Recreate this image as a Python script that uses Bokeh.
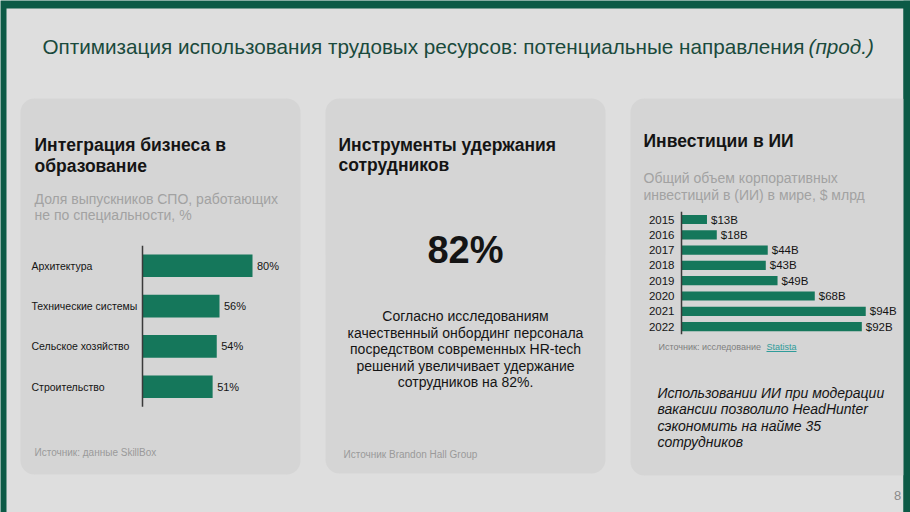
from bokeh.plotting import figure
from bokeh.models import Range1d
from bokeh.core.properties import value
from bokeh.embed import file_html
from bokeh.resources import INLINE

# Share of vocational-college graduates working outside their specialty, %
ed_fields = ["Архитектура", "Технические системы", "Сельское хозяйство", "Строительство"]
ed_share = [80, 56, 54, 51]

# Global corporate investment in AI, $ bn
ai_years = ["2015", "2016", "2017", "2018", "2019", "2020", "2021", "2022"]
ai_invest = [13, 18, 44, 43, 49, 68, 94, 92]

# Retention increase from HR-tech onboarding, %
retention_gain = 82

W, H = 910, 512
FONT = "Liberation Sans"
FRAME = "#0c5a46"
SLIDE_BG = "#dedede"
PANEL_BG = "#d5d5d5"
BAR = "#15775b"
TITLE_C = "#1a4a3c"
DARK = "#141414"
GREY = "#a2a2a2"
SRC = "#9a9a9a"

p = figure(width=W, height=H, x_range=Range1d(0, W), y_range=Range1d(H, 0),
           output_backend="svg", toolbar_location=None, min_border=0,
           x_axis_location=None, y_axis_location=None, outline_line_color=None,
           background_fill_color=FRAME, border_fill_color=FRAME)
p.xgrid.grid_line_color = None
p.ygrid.grid_line_color = None


def chart_ranges(axis_px, px_per_unit, first_row_px, row_px):
    """Ranges that put value 0 on the axis line and row i at first_row_px + i*row_px."""
    xr = Range1d(-axis_px / px_per_unit, (W - axis_px) / px_per_unit)
    yr = Range1d((H - first_row_px) / row_px, -first_row_px / row_px)
    return xr, yr


ed_x, ed_y = chart_ranges(142, 1.375, 265.3, 40.3)
ai_x, ai_y = chart_ranges(681, 1.96, 219.0, 15.3)
p.extra_x_ranges = {"ed": ed_x, "ai": ai_x}
p.extra_y_ranges = {"ed": ed_y, "ai": ai_y}


def txt(xs, ys, texts, size, color, style="normal", align="left", baseline="middle",
        font=FONT, **kw):
    p.text(x=xs, y=ys, text=texts, text_font=value(font), text_font_size=f"{size}px",
           text_color=color, text_font_style=style, text_align=align,
           text_baseline=baseline, **kw)


# slide and panels
p.quad(left=[6], right=[903], top=[8], bottom=[H], fill_color=SLIDE_BG, line_color=None)
p.quad(left=[20, 325, 630], right=[300, 605, 915], top=[98, 98, 98],
       bottom=[474, 473, 475], border_radius=14, fill_color=PANEL_BG, line_color=None)
p.quad(left=[903], right=[W], top=[0], bottom=[H], fill_color=FRAME, line_color=None)

# slide title
txt([42], [46], ["Оптимизация использования трудовых ресурсов: потенциальные направления"],
    20.7, TITLE_C)
txt([808], [46], ["(прод.)"], 20.7, TITLE_C, style="italic")

# ---- panel 1: business and education ----
txt([34, 34], [144, 165], ["Интеграция бизнеса в", "образование"], 17.5, DARK, style="bold")
txt([34, 34], [198, 214], ["Доля выпускников СПО, работающих", "не по специальности, %"],
    14, GREY)

ed_rows = list(range(len(ed_fields)))
p.hbar(y=ed_rows, left=0, right=ed_share, height=0.56, fill_color=BAR, line_color=None,
       x_range_name="ed", y_range_name="ed")
p.segment(x0=[0], y0=[-0.5], x1=[0], y1=[len(ed_fields) - 0.5], line_color="#3a3a3a",
          line_width=1.5, x_range_name="ed", y_range_name="ed")
p.text(x=[0] * len(ed_fields), y=ed_rows, text=ed_fields, x_offset=-111,
       text_font=value(FONT), text_font_size="10.5px", text_color=DARK,
       text_baseline="middle", x_range_name="ed", y_range_name="ed")
p.text(x=ed_share, y=ed_rows, text=[f"{v}%" for v in ed_share], x_offset=4.5,
       text_font=value(FONT), text_font_size="11px", text_color=DARK,
       text_baseline="middle", x_range_name="ed", y_range_name="ed")
txt([34], [452], ["Источник: данные SkillBox"], 10, SRC)

# ---- panel 2: retention ----
txt([338, 338], [144, 164], ["Инструменты удержания", "сотрудников"], 17.5, DARK, style="bold")
txt([465], [249], [f"{retention_gain}%"], 38, DARK, style="bold", align="center")
txt([465] * 5, [315.5, 332, 348.5, 365, 381.5],
    ["Согласно исследованиям",
     "качественный онбординг персонала",
     "посредством современных HR-tech",
     "решений увеличивает удержание",
     f"сотрудников на {retention_gain}%."],
    14, DARK, align="center")
txt([343], [454], ["Источник Brandon Hall Group"], 10, SRC)

# ---- panel 3: AI investment ----
txt([643], [140.5], ["Инвестиции в ИИ"], 17.5, DARK, style="bold")
txt([643, 643], [177, 194], ["Общий объем корпоративных", "инвестиций в (ИИ) в мире, $ млрд"],
    14, GREY)

ai_rows = list(range(len(ai_years)))
p.hbar(y=ai_rows, left=0, right=ai_invest, height=0.6, fill_color=BAR, line_color=None,
       x_range_name="ai", y_range_name="ai")
p.segment(x0=[0], y0=[-0.5], x1=[0], y1=[len(ai_years) - 0.5], line_color="#3a3a3a",
          line_width=1.5, x_range_name="ai", y_range_name="ai")
p.text(x=[0] * len(ai_years), y=ai_rows, text=ai_years, x_offset=-7,
       text_font=value(FONT), text_font_size="11.5px", text_color=DARK,
       text_align="right", text_baseline="middle", x_range_name="ai", y_range_name="ai")
p.text(x=ai_invest, y=ai_rows, text=[f"${v}B" for v in ai_invest], x_offset=4,
       text_font=value(FONT), text_font_size="11.5px", text_color=DARK,
       text_baseline="middle", x_range_name="ai", y_range_name="ai")
txt([763], [346], ["Источник: исследование "], 9, "#7e7e7e", align="right")
txt([766], [346], ["Statista"], 9, "#2f9c9a")
p.segment(x0=[766], y0=[351], x1=[796], y1=[351], line_color="#2f9c9a", line_width=1)

txt([657] * 4, [392.3, 408.5, 425, 441.5],
    ["Использовании ИИ при модерации",
     "вакансии позволило HeadHunter",
     "сэкономить на найме 35",
     "сотрудников"],
    14, DARK, style="italic")

# page number
txt([897], [495], ["8"], 13, "#8a8a8a", align="center")

open("out.html", "w").write(file_html(p, INLINE))
